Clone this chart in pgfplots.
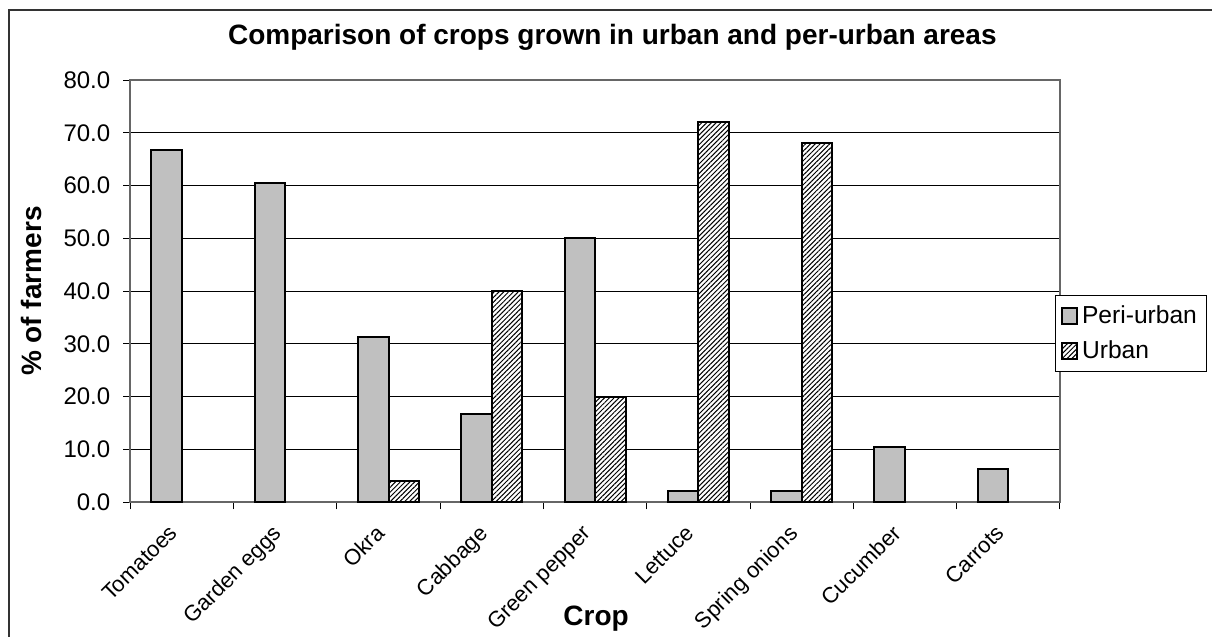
\documentclass[border=0pt]{standalone}
\usepackage{pgfplots}
\pgfplotsset{compat=1.18}
\usepackage{fontspec}
\setmainfont{Liberation Sans}
\usetikzlibrary{patterns.meta}
\definecolor{silv}{RGB}{192,192,192}
\begin{document}
\begin{tikzpicture}
\begin{axis}[
  at={(0pt,0pt)}, anchor=south west,
  scale only axis, width=464.85pt, height=211.15pt,
  xmin=-0.5, xmax=8.5, ymin=0, ymax=80,
  ytick={0,10,...,80},
  xtick={0,...,8},
  xticklabels={Tomatoes,Garden eggs,Okra,Cabbage,Green pepper,Lettuce,Spring onions,Cucumber,Carrots},
  minor xtick={-0.5,0.5,...,8.5},
  major x tick style={draw=none},
  tick align=outside, xtick pos=bottom, ytick pos=left,
  major tick length=3.5pt, minor tick length=3.5pt,
  tick style={black, line width=0.5pt},
  ymajorgrids, grid style={black, line width=0.5pt},
  axis line style={draw=gray!80!black, line width=0.8pt},
  /pgf/number format/assume math mode=true,
  yticklabel style={/pgf/number format/fixed, /pgf/number format/fixed zerofill, /pgf/number format/precision=1},
  yticklabel style={font=\fontsize{12}{14}\selectfont, xshift=-3pt},
  xticklabel style={font=\fontsize{11}{13}\selectfont, xshift=-7pt, yshift=-5.5pt, rotate=45, anchor=north east, inner sep=1pt},
  title={Comparison of crops grown in urban and per-urban areas},
  title style={at={(axis description cs:0.5185,1.0552)}, anchor=base, font=\bfseries\fontsize{14}{16}\selectfont},
  xlabel={Crop},
  xlabel style={at={(axis description cs:0.501,-0.2906)}, anchor=base, font=\bfseries\fontsize{14}{16}\selectfont},
  ylabel={\% of farmers},
  ylabel style={at={(axis description cs:-0.1068,0.5)}, anchor=center, rotate=0, font=\bfseries\fontsize{14}{16}\selectfont},
  ybar, bar width=0.296,
  legend style={at={(rel axis cs:0.9946,0.4909)}, anchor=north west, draw=black, line width=0.5pt,
    font=\fontsize{12.3}{14}\selectfont, inner xsep=3pt, inner ysep=3pt, row sep=3pt, legend cell align=left},
  legend image code/.code={\draw[#1, line width=0.8pt] (0pt,-4pt) rectangle (7.5pt,4pt);},
]
\addplot[bar shift=-0.148, fill=silv, draw=black, line width=1pt]
  coordinates {(0,66.7) (1,60.5) (2,31.3) (3,16.7) (4,50.0) (5,2.1) (6,2.1) (7,10.5) (8,6.3)};
\addlegendentry{Peri-urban}
\addplot[bar shift=0.148, fill=white, draw=black, line width=1pt,
  postaction={pattern={Lines[angle=45,distance=1.7pt,line width=0.5pt]}}]
  coordinates {(2,4.0) (3,40.0) (4,20.0) (5,72.0) (6,68.0)};
\addlegendentry{Urban}
\end{axis}
\draw[line width=0.8pt, black!80] (-60.65pt,-80pt) -- (-60.65pt,246.15pt) -- (560pt,246.15pt);
\pgfresetboundingbox
\useasboundingbox (-65.15pt,-67.35pt) rectangle (540.85pt,251.15pt);
\end{tikzpicture}
\end{document}
